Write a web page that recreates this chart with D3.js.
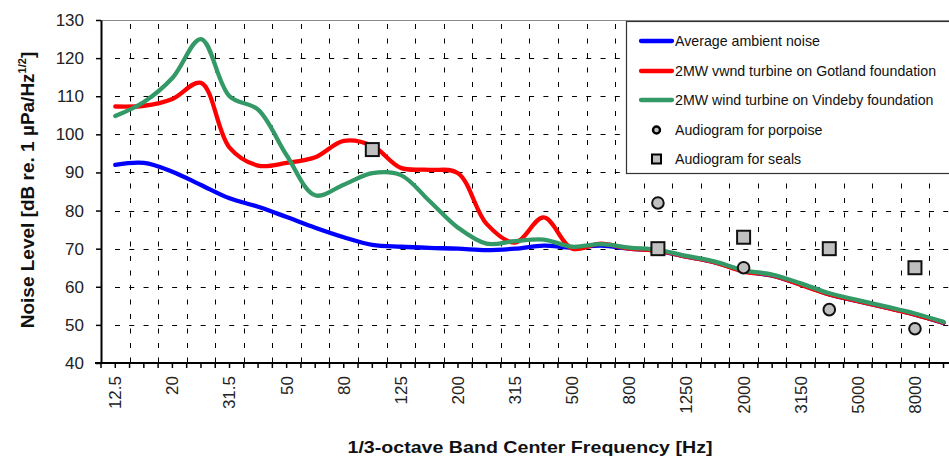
<!DOCTYPE html>
<html>
<head>
<meta charset="utf-8">
<script src="https://cdn.jsdelivr.net/npm/d3@7"></script>
<style>
  html, body { margin: 0; padding: 0; background: #fff; }
  svg { display: block; font-family: "Liberation Sans", Arial, sans-serif; }
</style>
</head>
<body>
<svg id="chart" width="949" height="459"></svg>
<script>
// ---------- data ----------
const categories = ["12.5","16","20","25","31.5","40","50","63","80","100","125","160","200","250","315","400","500","630","800","1000","1250","1600","2000","2500","3150","4000","5000","6300","8000","10000"];
const labeledCategories = ["12.5","20","31.5","50","80","125","200","315","500","800","1250","2000","3150","5000","8000"];

const ambient  = [92, 92.5, 90.2, 86.7, 83.2, 81, 78.3, 75.5, 73, 71, 70.5, 70.2, 70, 69.6, 70, 70.8, 70.3, 70.8, 70, 69.4, 67.9, 66.4, 64.1, 62.9, 60.6, 58, 56.2, 54.5, 52.7, 50.5];
const gotland  = [107.3, 107.5, 109.3, 113.5, 96.5, 91.8, 92.5, 94, 98.3, 97, 91.2, 90.7, 89.8, 76.5, 71.6, 78.2, 70, 71.3, 70, 69.5, 67.9, 66.4, 64, 63, 60.5, 58, 56.2, 54.5, 52.7, 50.6];
const vindeby  = [104.8, 108.5, 114.8, 125, 110, 106.5, 94.5, 84, 86.8, 89.8, 89.3, 82.5, 75.5, 71.3, 72, 72.4, 70.5, 71.2, 70.3, 69.7, 68.1, 66.6, 64.3, 63.2, 60.9, 58.3, 56.5, 54.8, 53, 50.8];

const sealCats  = ["100", "1000", "2000", "4000", "8000"];
const sealVals  = [96, 70, 73, 70, 65];
const porpCats  = ["1000", "2000", "4000", "8000"];
const porpVals  = [82, 65, 54, 49];

const yTicks = [40, 50, 60, 70, 80, 90, 100, 110, 120, 130];

const seriesNames = ["Average ambient noise", "2MW vwnd turbine on Gotland foundation", "2MW wind turbine on Vindeby foundation"];
const porpName = "Audiogram for porpoise";
const sealName = "Audiogram for seals";

// ---------- layout ----------
const svg = d3.select("#chart");
const pLeft = 101, pTop = 20, pBottom = 363;
const bandW = 28.56;
const x = d3.scaleBand().domain(categories).range([pLeft, pLeft + bandW * categories.length]).padding(0);
const y = d3.scaleLinear().domain([40, 130]).range([pBottom, pTop]);
const cx = c => x(c) + x.bandwidth() / 2;
const pRight = x.range()[1];

// plot top border
svg.append("line").attr("x1", pLeft).attr("x2", pRight).attr("y1", y(130) + 0.5).attr("y2", y(130) + 0.5)
  .attr("stroke", "#8a8a8a").attr("stroke-width", 1.2);

// gridlines
const grid = svg.append("g");
grid.selectAll("line.h").data(yTicks.filter(v => v > 40 && v < 130)).join("line")
  .attr("x1", pLeft + 14).attr("x2", pRight)
  .attr("y1", d => Math.round(y(d)) + 0.5).attr("y2", d => Math.round(y(d)) + 0.5)
  .attr("stroke", "#000").attr("stroke-width", 1).attr("stroke-dasharray", "5,9.28");
grid.selectAll("line.v").data(categories.slice(1)).join("line")
  .attr("x1", d => Math.round(x(d)) + 0.5).attr("x2", d => Math.round(x(d)) + 0.5)
  .attr("y1", y(130) + 4).attr("y2", y(40))
  .attr("stroke", "#000").attr("stroke-width", 1).attr("stroke-dasharray", "5,9.5");

// lines
const line = d3.line().x((d, i) => cx(categories[i])).y(d => y(d)).curve(d3.curveCatmullRom.alpha(0.5));
const colors = ["#0000ff", "#ff0000", "#339966"];
[ambient, gotland, vindeby].forEach((s, k) => {
  svg.append("path").attr("d", line(s)).attr("fill", "none")
    .attr("stroke", colors[k]).attr("stroke-width", 4.3).attr("stroke-linejoin", "round").attr("stroke-linecap", "round");
});

// markers
svg.selectAll("rect.seal").data(sealCats).join("rect")
  .attr("x", d => cx(d) - 6.5).attr("y", (d, i) => y(sealVals[i]) - 6.5)
  .attr("width", 13).attr("height", 13)
  .attr("fill", "#c0c0c0").attr("stroke", "#111").attr("stroke-width", 2);
svg.selectAll("circle.porp").data(porpCats).join("circle")
  .attr("cx", d => cx(d)).attr("cy", (d, i) => y(porpVals[i]))
  .attr("r", 5.8)
  .attr("fill", "#c0c0c0").attr("stroke", "#111").attr("stroke-width", 2);

// axes
const axisColor = "#000";
const yAxis = svg.append("g").attr("transform", `translate(${pLeft},0)`)
  .call(d3.axisLeft(y).tickValues(yTicks).tickSize(5).tickSizeOuter(0).tickPadding(12));
yAxis.select(".domain").attr("stroke", axisColor).attr("stroke-width", 2);
yAxis.selectAll(".tick line").attr("stroke", axisColor).attr("stroke-width", 1.5);
yAxis.selectAll(".tick text").attr("font-size", 17).attr("fill", "#222")
  .attr("font-family", "'Liberation Sans', Arial, sans-serif");

svg.append("line").attr("x1", pLeft - 6).attr("x2", pRight).attr("y1", pBottom).attr("y2", pBottom)
  .attr("stroke", axisColor).attr("stroke-width", 2);
const tickPos = [];
categories.forEach(c => { tickPos.push(x(c)); tickPos.push(cx(c)); });
svg.selectAll("line.xt").data(tickPos).join("line")
  .attr("x1", d => d).attr("x2", d => d).attr("y1", pBottom).attr("y2", pBottom + 5)
  .attr("stroke", axisColor).attr("stroke-width", 1.5);
svg.selectAll("text.xl").data(labeledCategories).join("text")
  .attr("transform", d => `translate(${cx(d)},${pBottom + 13}) rotate(-90)`)
  .attr("text-anchor", "end").attr("dy", "0.35em")
  .attr("font-size", 17).attr("fill", "#222").text(d => d);

// axis titles
svg.append("text").attr("x", 530).attr("y", 453).attr("text-anchor", "middle")
  .attr("font-size", 17).attr("font-weight", "bold").attr("fill", "#111")
  .attr("textLength", 365).attr("lengthAdjust", "spacingAndGlyphs")
  .text("1/3-octave Band Center Frequency [Hz]");
const yt = svg.append("text").attr("transform", "translate(34,190) rotate(-90)").attr("text-anchor", "middle")
  .attr("font-size", 19).attr("font-weight", "bold").attr("fill", "#111");
yt.append("tspan").text("Noise Level [dB re. 1 µPa/Hz");
yt.append("tspan").attr("font-size", 11).attr("dy", -8).text("1/2");
yt.append("tspan").attr("dy", 8).text("]");

// legend
const lg = svg.append("g");
lg.append("rect").attr("x", 626.5).attr("y", 21.5).attr("width", 340).attr("height", 152)
  .attr("fill", "#fff").attr("stroke", "#333").attr("stroke-width", 1.2);
const rowY = [41, 71, 100, 130, 159];
seriesNames.forEach((n, k) => {
  lg.append("line").attr("x1", 641).attr("x2", 672).attr("y1", rowY[k]).attr("y2", rowY[k])
    .attr("stroke", colors[k]).attr("stroke-width", 4.3).attr("stroke-linecap", "round");
  lg.append("text").attr("x", 675).attr("y", rowY[k]).attr("dy", "0.35em")
    .attr("font-size", 14.2).attr("fill", "#111").text(n);
});
lg.append("circle").attr("cx", 656.5).attr("cy", rowY[3]).attr("r", 3.5)
  .attr("fill", "#c0c0c0").attr("stroke", "#000").attr("stroke-width", 2.4);
lg.append("text").attr("x", 675).attr("y", rowY[3]).attr("dy", "0.35em")
  .attr("font-size", 14.2).attr("fill", "#111").text(porpName);
lg.append("rect").attr("x", 652).attr("y", rowY[4] - 4.5).attr("width", 9).attr("height", 9)
  .attr("fill", "#c0c0c0").attr("stroke", "#000").attr("stroke-width", 2);
lg.append("text").attr("x", 675).attr("y", rowY[4]).attr("dy", "0.35em")
  .attr("font-size", 14.2).attr("fill", "#111").text(sealName);
</script>
</body>
</html>
